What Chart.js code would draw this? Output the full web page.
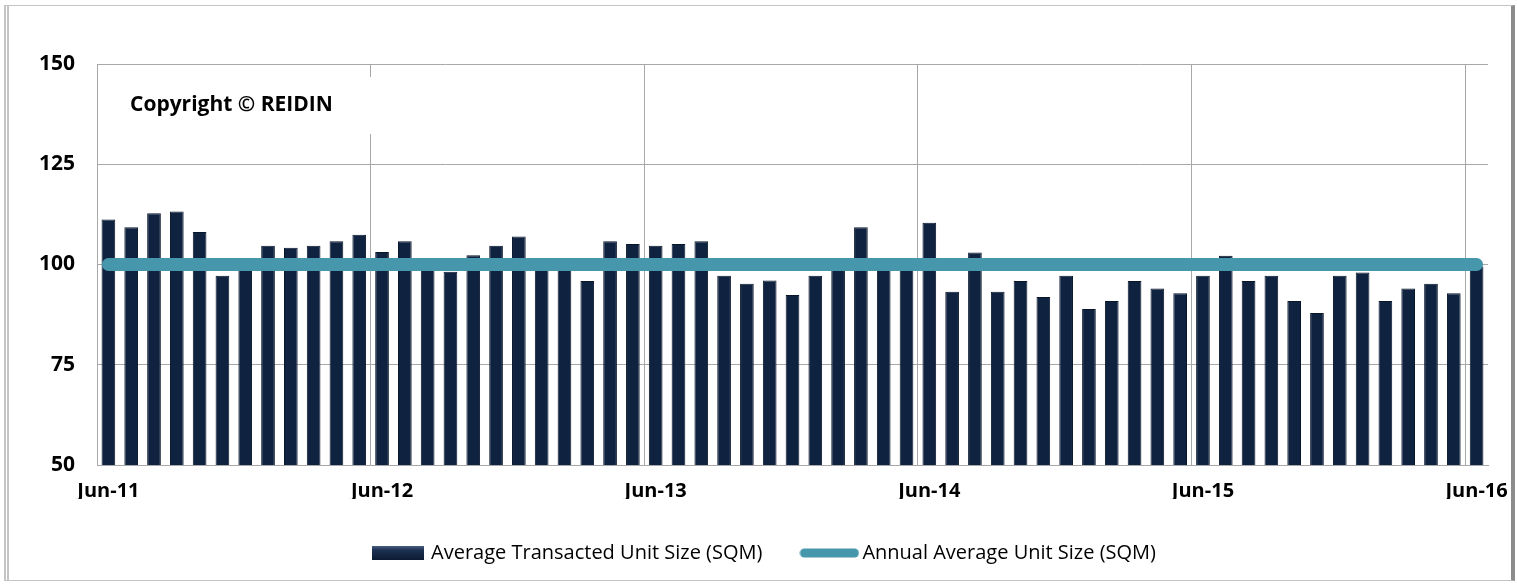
<!DOCTYPE html>
<html>
<head>
<meta charset="utf-8">
<script src="https://cdn.jsdelivr.net/npm/chart.js@4.4.1/dist/chart.umd.min.js"></script>
<style>
  html, body { margin: 0; padding: 0; background: #fff; }
  #wrap { position: relative; width: 1517px; height: 584px; }
  #frame { position: absolute; left: 4px; top: 5px; width: 1502px; height: 574px;
           border: 1px solid #c4c4c4; border-left: 5px double #c4c4c4; border-right: 4px solid #8c8c8c; }
  #myChart { position: absolute; left: 0; top: 0; }
</style>
</head>
<body>
<div id="wrap">
  <div id="frame"></div>
  <canvas id="myChart" width="1517" height="584"></canvas>
</div>
<script>
var months = [
    'Jun-11','Jul-11','Aug-11','Sep-11','Oct-11','Nov-11','Dec-11','Jan-12','Feb-12','Mar-12','Apr-12','May-12',
    'Jun-12','Jul-12','Aug-12','Sep-12','Oct-12','Nov-12','Dec-12','Jan-13','Feb-13','Mar-13','Apr-13','May-13',
    'Jun-13','Jul-13','Aug-13','Sep-13','Oct-13','Nov-13','Dec-13','Jan-14','Feb-14','Mar-14','Apr-14','May-14',
    'Jun-14','Jul-14','Aug-14','Sep-14','Oct-14','Nov-14','Dec-14','Jan-15','Feb-15','Mar-15','Apr-15','May-15',
    'Jun-15','Jul-15','Aug-15','Sep-15','Oct-15','Nov-15','Dec-15','Jan-16','Feb-16','Mar-16','Apr-16','May-16',
    'Jun-16'
];

// monthly average transacted unit size (sqm)
var unitSize = [
    111.2, 109.3, 112.8, 113.2, 108.1, 97.2, 99.0, 104.7, 104.2, 104.7, 105.8, 107.4,
    103.1, 105.8, 99.0, 98.2, 102.3, 104.7, 107.0, 99.0, 99.0, 95.9, 105.8, 105.1,
    104.7, 105.1, 105.8, 97.2, 95.2, 96.0, 92.4, 97.2, 99.5, 109.3, 99.0, 99.0,
    110.4, 93.2, 103.0, 93.2, 95.9, 91.9, 97.2, 88.9, 90.9, 95.9, 94.0, 92.8,
    97.2, 102.2, 95.9, 97.2, 90.9, 87.9, 97.2, 98.0, 90.9, 94.0, 95.2, 92.8,
    99.5
];

var annualAvg = [
    100, 100, 100, 100, 100, 100, 100, 100, 100, 100, 100, 100,
    100, 100, 100, 100, 100, 100, 100, 100, 100, 100, 100, 100,
    100, 100, 100, 100, 100, 100, 100, 100, 100, 100, 100, 100,
    100, 100, 100, 100, 100, 100, 100, 100, 100, 100, 100, 100,
    100, 100, 100, 100, 100, 100, 100, 100, 100, 100, 100, 100,
    100
];

var yTicks = [50, 75, 100, 125, 150];

var barColor = '#0f223f';
var lineColor = '#4697ab';
var gridColor = '#a8a8a8';
var fontName = "'Open Sans', 'Liberation Sans', sans-serif";

// little swatches for the legend
function barSwatch() {
    var c = document.createElement('canvas');
    c.width = 52; c.height = 14;
    var g = c.getContext('2d');
    var grad = g.createLinearGradient(0, 0, 0, 14);
    grad.addColorStop(0, '#4a5f80');
    grad.addColorStop(0.3, '#1c3152');
    grad.addColorStop(1, '#0c1b33');
    g.fillStyle = grad;
    g.fillRect(0, 0, 52, 14);
    return c;
}

function lineSwatch() {
    var c = document.createElement('canvas');
    c.width = 60; c.height = 12;
    var g = c.getContext('2d');
    g.strokeStyle = lineColor;
    g.lineWidth = 9;
    g.lineCap = 'round';
    g.beginPath();
    g.moveTo(5, 6);
    g.lineTo(55, 6);
    g.stroke();
    return c;
}

var copyrightBox = {
    id: 'copyrightBox',
    beforeDatasetsDraw: function(chart) {
        var ctx = chart.ctx;
        var area = chart.chartArea;
        ctx.save();
        ctx.fillStyle = '#fff';
        ctx.fillRect(area.left + 12, area.top + 13, 264, 57);
        ctx.fillStyle = '#000';
        ctx.font = 'bold 21px ' + fontName;
        ctx.textBaseline = 'middle';
        ctx.fillText('Copyright \u00a9 REIDIN', area.left + 33, area.top + 41);
        ctx.restore();
    }
};

var ctx = document.getElementById('myChart');
var myChart = new Chart(ctx, {
    data: {
        labels: months,
        datasets: [{
            type: 'line',
            label: 'Annual Average Unit Size (SQM)',
            data: annualAvg,
            borderColor: lineColor,
            backgroundColor: lineColor,
            borderWidth: 13,
            borderCapStyle: 'round',
            pointRadius: 0,
            pointStyle: lineSwatch(),
            order: 0
        }, {
            type: 'bar',
            label: 'Average Transacted Unit Size (SQM)',
            data: unitSize,
            backgroundColor: barColor,
            borderColor: '#08162b',
            borderWidth: 1,
            pointStyle: barSwatch(),
            barPercentage: 0.6,
            categoryPercentage: 1.0,
            order: 1
        }]
    },
    options: {
        responsive: false,
        animation: false,
        layout: { padding: { top: 64, right: 0, left: 14, bottom: 11 } },
        scales: {
            x: {
                offset: true,
                grid: {
                    offset: true,
                    drawTicks: false,
                    color: function(c) { return c.index % 12 === 0 ? gridColor : 'rgba(0,0,0,0)'; }
                },
                border: { color: gridColor },
                ticks: {
                    autoSkip: false,
                    maxRotation: 0,
                    padding: 14,
                    color: '#000',
                    font: { family: fontName, size: 20, weight: 'bold' },
                    callback: function(v, i) { return i % 12 === 0 ? months[i] : ''; }
                },
                afterFit: function(scale) {
                    scale.height = 34;
                    scale.paddingLeft = 0;
                    scale.paddingRight = 29;
                }
            },
            y: {
                min: 50,
                max: 150,
                afterBuildTicks: function(scale) {
                    scale.ticks = yTicks.map(function(v) { return { value: v }; });
                },
                grid: { color: gridColor, drawTicks: false },
                border: { color: gridColor },
                ticks: {
                    padding: 22,
                    color: '#000',
                    font: { family: fontName, size: 21, weight: 'bold' }
                },
                afterFit: function(scale) { scale.width = 83; }
            }
        },
        plugins: {
            legend: {
                position: 'bottom',
                reverse: true,
                labels: {
                    usePointStyle: true,
                    pointStyleWidth: 46,
                    padding: 44,
                    color: '#000',
                    font: { family: fontName, size: 20 }
                }
            },
            tooltip: { enabled: false }
        }
    },
    plugins: [copyrightBox]
});
</script>
</body>
</html>
